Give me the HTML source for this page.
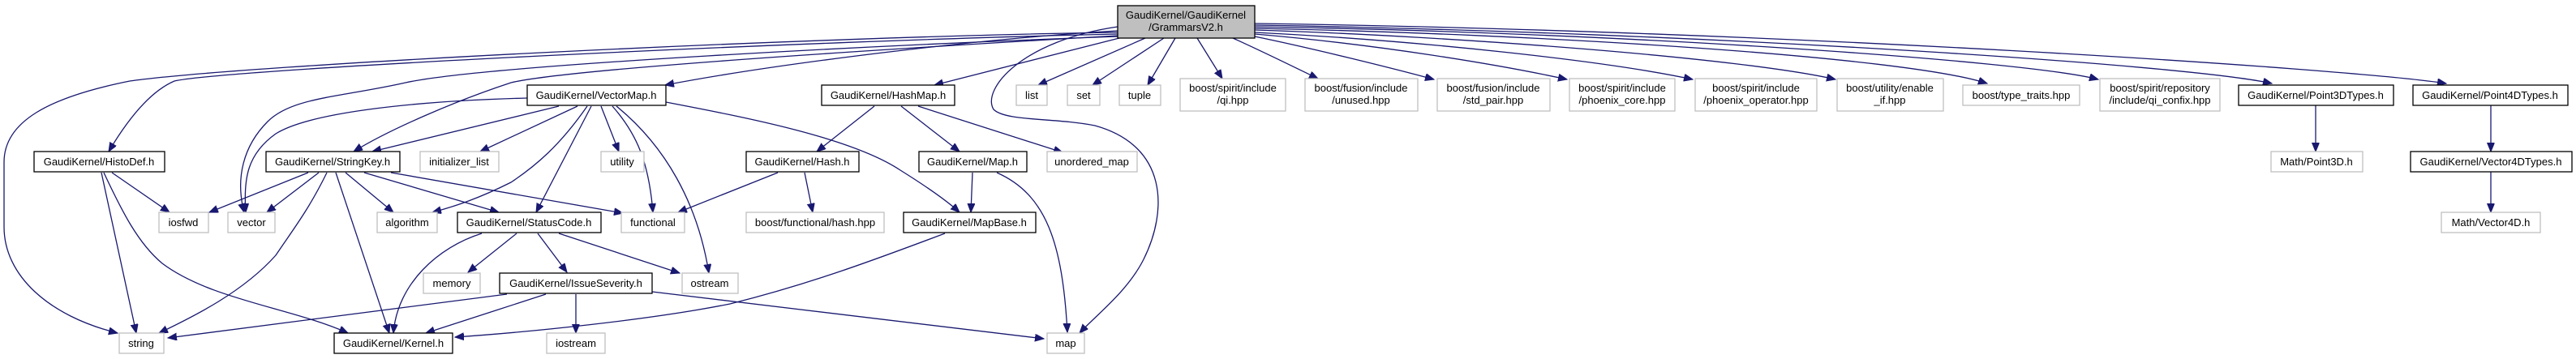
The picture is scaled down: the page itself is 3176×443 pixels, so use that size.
<!DOCTYPE html>
<html><head><meta charset="utf-8"><style>
html,body{margin:0;padding:0;background:#fff;}
svg{display:block;}
text{font-family:"Liberation Sans",sans-serif;font-size:13px;fill:#000;text-anchor:middle;}
.e{fill:none;stroke:#191970;stroke-width:1.3;marker-end:url(#a);}
.b{fill:#fff;stroke:#000;stroke-width:1.3;}
.g{fill:#fff;stroke:#bfbfbf;stroke-width:1.3;}
</style></head><body>
<svg width="3176" height="443" viewBox="0 0 3176 443" xmlns="http://www.w3.org/2000/svg">
<defs><marker id="a" markerUnits="userSpaceOnUse" markerWidth="12" markerHeight="10" refX="11" refY="4.5" orient="auto"><path d="M0,0 L11,4.5 L0,9 z" fill="#191970" stroke="#191970"/></marker></defs>

<!-- edges from main -->
<path class="e" d="M1378,40 C1000,45 300,80 160,100 C60,120 5,150 5,200 L5,280 C5,340 60,390 145,411"/>
<path class="e" d="M1378,42 C1000,50 280,85 215,100 C180,115 150,160 134,187"/>
<path class="e" d="M1378,45 C1100,55 600,80 500,102 C420,120 360,120 330,150 C300,180 290,220 301,262"/>
<path class="e" d="M1378,44 C1100,60 700,85 630,102 C560,125 480,160 436,187"/>
<path class="e" d="M1378,38 C1200,48 950,80 820,105"/>
<path class="e" d="M1380,47 L1152,105"/>
<path class="e" d="M1412,47 L1280,105"/>
<path class="e" d="M1435,47 L1347,105"/>
<path class="e" d="M1449,47 L1415,105"/>
<path class="e" d="M1476,47 L1507,97"/>
<path class="e" d="M1378,33 C1260,50 1210,110 1225,135 C1240,150 1300,145 1350,155 C1440,180 1440,260 1410,320 C1390,360 1350,390 1331,411"/>
<path class="e" d="M1520,47 C1560,65 1600,85 1625,97"/>
<path class="e" d="M1547,45 C1620,60 1720,85 1768,98"/>
<path class="e" d="M1547,42 C1700,55 1850,80 1932,98"/>
<path class="e" d="M1547,40 C1750,50 1980,75 2087,98"/>
<path class="e" d="M1547,37 C1800,45 2150,72 2263,98"/>
<path class="e" d="M1547,35 C1900,42 2350,70 2450,103"/>
<path class="e" d="M1547,33 C2000,40 2500,75 2587,98"/>
<path class="e" d="M1547,31 C2100,40 2700,80 2801,103"/>
<path class="e" d="M1547,29 C2200,38 2900,85 3016,103"/>

<!-- VectorMap edges -->
<path class="e" d="M650,121 C500,125 380,140 340,165 C305,190 300,220 303,262"/>
<path class="e" d="M689,131 L459,187"/>
<path class="e" d="M712,131 L592,187"/>
<path class="e" d="M724,131 C690,180 660,205 630,225 C590,245 560,255 533,262"/>
<path class="e" d="M729,131 L661,262"/>
<path class="e" d="M741,131 L763,187"/>
<path class="e" d="M755,131 C785,165 800,200 805,262"/>
<path class="e" d="M760,131 C820,180 860,250 874,337"/>
<path class="e" d="M821,126 C920,145 1050,170 1110,210 C1150,235 1170,250 1183,262"/>

<!-- StringKey edges -->
<path class="e" d="M380,213 L258,262"/>
<path class="e" d="M393,213 L329,262"/>
<path class="e" d="M403,213 C380,260 360,285 340,315 C300,360 240,390 196,411"/>
<path class="e" d="M414,213 L480,411"/>
<path class="e" d="M426,213 L485,262"/>
<path class="e" d="M449,213 L615,262"/>
<path class="e" d="M482,213 L768,263"/>

<!-- HistoDef edges -->
<path class="e" d="M138,213 L209,262"/>
<path class="e" d="M125,213 L168,411"/>
<path class="e" d="M128,213 C150,260 170,300 200,325 C260,370 360,380 429,411"/>

<!-- StatusCode edges -->
<path class="e" d="M594,288 C540,305 490,350 485,411"/>
<path class="e" d="M637,288 L577,336"/>
<path class="e" d="M663,288 L699,336"/>
<path class="e" d="M689,288 L838,337"/>

<!-- IssueSeverity edges -->
<path class="e" d="M625,363 L207,417"/>
<path class="e" d="M673,363 L525,411"/>
<path class="e" d="M710,363 L710,411"/>
<path class="e" d="M804,360 L1287,418"/>

<!-- MapBase -->
<path class="e" d="M1165,288 C1080,320 1000,350 900,375 C800,395 650,410 561,416"/>

<!-- HashMap -->
<path class="e" d="M1078,131 L1007,187"/>
<path class="e" d="M1111,131 L1183,187"/>
<path class="e" d="M1132,131 L1310,188"/>
<!-- Hash.h -->
<path class="e" d="M959,213 L836,262"/>
<path class="e" d="M992,213 L1002,262"/>
<!-- Map.h -->
<path class="e" d="M1199,213 L1197,262"/>
<path class="e" d="M1229,213 C1290,240 1310,300 1316,410"/>

<!-- Point3D / Point4D -->
<path class="e" d="M2855,130 L2855,187"/>
<path class="e" d="M3071,130 L3071,187"/>
<path class="e" d="M3071,212 L3071,262"/>

<!-- nodes -->
<rect x="1378" y="7" width="169" height="40" fill="#bfbfbf" stroke="#000" stroke-width="1.3"/>
<text x="1462" y="23">GaudiKernel/GaudiKernel</text><text x="1462" y="38">/GrammarsV2.h</text>

<rect class="b" x="650" y="105" width="171" height="25"/><text x="735" y="122">GaudiKernel/VectorMap.h</text>
<rect class="b" x="1013" y="105" width="164" height="25"/><text x="1095" y="122">GaudiKernel/HashMap.h</text>
<rect class="g" x="1253" y="105" width="38" height="25"/><text x="1272" y="122">list</text>
<rect class="g" x="1316" y="105" width="40" height="25"/><text x="1336" y="122">set</text>
<rect class="g" x="1380" y="105" width="51" height="25"/><text x="1405" y="122">tuple</text>
<rect class="g" x="1455" y="97" width="130" height="40"/><text x="1520" y="113">boost/spirit/include</text><text x="1520" y="128">/qi.hpp</text>
<rect class="g" x="1609" y="97" width="139" height="40"/><text x="1678" y="113">boost/fusion/include</text><text x="1678" y="128">/unused.hpp</text>
<rect class="g" x="1772" y="97" width="139" height="40"/><text x="1841" y="113">boost/fusion/include</text><text x="1841" y="128">/std_pair.hpp</text>
<rect class="g" x="1935" y="97" width="130" height="40"/><text x="2000" y="113">boost/spirit/include</text><text x="2000" y="128">/phoenix_core.hpp</text>
<rect class="g" x="2090" y="97" width="150" height="40"/><text x="2165" y="113">boost/spirit/include</text><text x="2165" y="128">/phoenix_operator.hpp</text>
<rect class="g" x="2265" y="97" width="131" height="40"/><text x="2330" y="113">boost/utility/enable</text><text x="2330" y="128">_if.hpp</text>
<rect class="g" x="2420" y="105" width="144" height="25"/><text x="2492" y="122">boost/type_traits.hpp</text>
<rect class="g" x="2589" y="97" width="148" height="40"/><text x="2663" y="113">boost/spirit/repository</text><text x="2663" y="128">/include/qi_confix.hpp</text>
<rect class="b" x="2760" y="105" width="191" height="25"/><text x="2855" y="122">GaudiKernel/Point3DTypes.h</text>
<rect class="b" x="2975" y="105" width="191" height="25"/><text x="3070" y="122">GaudiKernel/Point4DTypes.h</text>

<rect class="b" x="42" y="187" width="161" height="25"/><text x="122" y="204">GaudiKernel/HistoDef.h</text>
<rect class="b" x="328" y="187" width="165" height="25"/><text x="410" y="204">GaudiKernel/StringKey.h</text>
<rect class="g" x="518" y="187" width="97" height="25"/><text x="566" y="204">initializer_list</text>
<rect class="g" x="741" y="187" width="53" height="25"/><text x="767" y="204">utility</text>
<rect class="b" x="920" y="187" width="139" height="25"/><text x="989" y="204">GaudiKernel/Hash.h</text>
<rect class="b" x="1133" y="187" width="133" height="25"/><text x="1199" y="204">GaudiKernel/Map.h</text>
<rect class="g" x="1291" y="187" width="111" height="25"/><text x="1346" y="204">unordered_map</text>
<rect class="g" x="2800" y="187" width="113" height="25"/><text x="2856" y="204">Math/Point3D.h</text>
<rect class="b" x="2972" y="187" width="199" height="25"/><text x="3071" y="204">GaudiKernel/Vector4DTypes.h</text>

<rect class="g" x="196" y="262" width="61" height="25"/><text x="226" y="279">iosfwd</text>
<rect class="g" x="281" y="262" width="58" height="25"/><text x="310" y="279">vector</text>
<rect class="g" x="465" y="262" width="74" height="25"/><text x="502" y="279">algorithm</text>
<rect class="b" x="564" y="262" width="177" height="25"/><text x="652" y="279">GaudiKernel/StatusCode.h</text>
<rect class="g" x="766" y="262" width="78" height="25"/><text x="805" y="279">functional</text>
<rect class="g" x="920" y="262" width="170" height="25"/><text x="1005" y="279">boost/functional/hash.hpp</text>
<rect class="b" x="1114" y="262" width="163" height="25"/><text x="1195" y="279">GaudiKernel/MapBase.h</text>
<rect class="g" x="3010" y="262" width="122" height="25"/><text x="3071" y="279">Math/Vector4D.h</text>

<rect class="g" x="522" y="337" width="70" height="25"/><text x="557" y="354">memory</text>
<rect class="b" x="616" y="337" width="188" height="25"/><text x="710" y="354">GaudiKernel/IssueSeverity.h</text>
<rect class="g" x="841" y="337" width="69" height="25"/><text x="875" y="354">ostream</text>

<rect class="g" x="147" y="411" width="55" height="25"/><text x="174" y="428">string</text>
<rect class="b" x="412" y="411" width="146" height="25"/><text x="485" y="428">GaudiKernel/Kernel.h</text>
<rect class="g" x="674" y="411" width="72" height="25"/><text x="710" y="428">iostream</text>
<rect class="g" x="1291" y="411" width="46" height="25"/><text x="1314" y="428">map</text>
</svg>
</body></html>
